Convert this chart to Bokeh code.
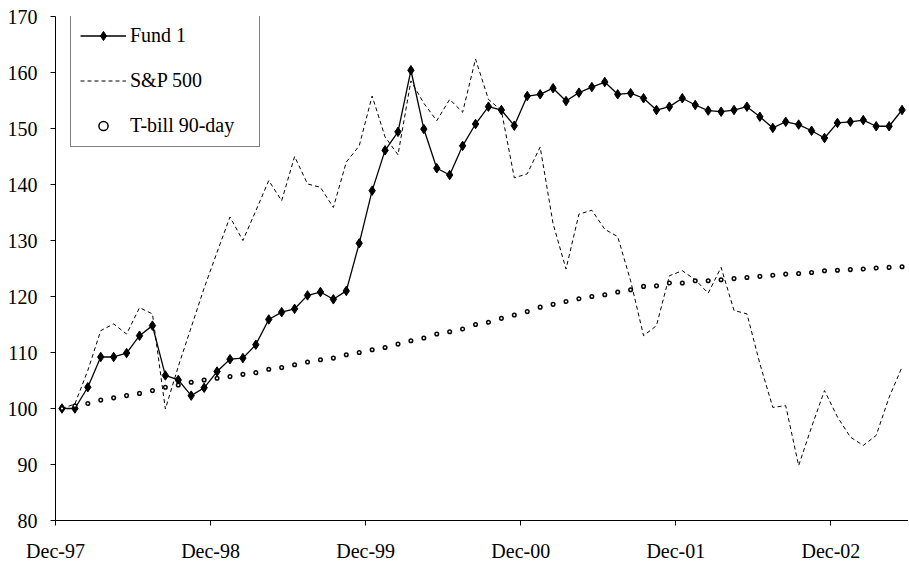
from bokeh.plotting import figure
from bokeh.models import Range1d, FixedTicker, Legend, LegendItem
from bokeh.embed import file_html
from bokeh.resources import INLINE

# ---- data (monthly index values, Dec-97 = 100) ----
fund1 = [100.0, 100.0, 103.8, 109.2, 109.2, 109.9, 113.0, 114.8, 105.9, 105.1,
         102.3, 103.7, 106.6, 108.8, 109.0, 111.4, 115.9, 117.2, 117.8, 120.2,
         120.8, 119.5, 121.0, 129.5, 138.9, 146.1, 149.4, 160.4, 149.9, 142.9,
         141.7, 146.9, 150.8, 153.9, 153.3, 150.5, 155.8, 156.1, 157.2, 154.9,
         156.4, 157.4, 158.3, 156.1, 156.3, 155.4, 153.3, 153.9, 155.4, 154.2,
         153.2, 153.0, 153.3, 153.9, 152.1, 150.1, 151.2, 150.7, 149.6, 148.3,
         151.0, 151.2, 151.5, 150.4, 150.4, 153.3]

sp500 = [100.0, 100.8, 106.8, 113.9, 115.1, 113.3, 118.0, 116.9, 99.9, 107.5,
         114.5, 121.5, 127.9, 134.2, 130.0, 135.3, 140.7, 137.1, 145.0, 140.1,
         139.5, 135.9, 144.0, 146.9, 155.8, 148.5, 145.3, 158.5, 154.5, 151.4,
         155.2, 152.9, 162.4, 155.2, 153.2, 141.2, 141.9, 146.7, 133.0, 124.9,
         134.7, 135.4, 132.0, 130.7, 122.8, 113.0, 114.8, 123.7, 124.6, 123.0,
         120.6, 125.2, 117.5, 116.9, 108.0, 100.2, 100.5, 89.8, 96.7, 103.2,
         98.5, 94.9, 93.4, 95.2, 102.0, 107.4]

tbill = [100.0, 100.5, 100.9, 101.5, 101.9, 102.3, 102.7, 103.2, 103.8, 104.2,
         104.7, 105.1, 105.4, 105.7, 106.1, 106.4, 107.0, 107.3, 107.8, 108.3,
         108.7, 109.0, 109.6, 110.0, 110.5, 110.9, 111.5, 112.1, 112.6, 113.3,
         113.7, 114.2, 115.0, 115.4, 116.1, 116.7, 117.3, 118.1, 118.6, 119.1,
         119.6, 120.0, 120.3, 120.8, 121.2, 121.8, 121.9, 122.4, 122.4, 122.8,
         122.8, 123.0, 123.2, 123.4, 123.6, 123.8, 124.0, 124.1, 124.3, 124.6,
         124.7, 124.8, 124.9, 125.1, 125.2, 125.3]

series_names = ["Fund 1", "S&P 500", "T-bill 90-day"]
tick_labels = ["Dec-97", "Dec-98", "Dec-99", "Dec-00", "Dec-01", "Dec-02"]
months_per_label = 12
y_ticks = [80, 90, 100, 110, 120, 130, 140, 150, 160, 170]

FONT = "Liberation Serif"
n = len(fund1)
x = [i + 0.5 for i in range(n)]  # category centres

p = figure(frame_width=853, frame_height=504,
           x_range=Range1d(0, n), y_range=Range1d(y_ticks[0], y_ticks[-1]),
           output_backend="svg", toolbar_location=None,
           min_border_left=55, min_border_right=0, min_border_top=16, min_border_bottom=36)
p.background_fill_color = "white"
p.border_fill_color = "white"
p.outline_line_color = None
p.grid.visible = False

xa = p.xaxis[0]
ya = p.yaxis[0]
xa.ticker = FixedTicker(ticks=[months_per_label * k for k in range(len(tick_labels))])
xa.major_label_overrides = {months_per_label * k: lab for k, lab in enumerate(tick_labels)}
ya.ticker = FixedTicker(ticks=y_ticks)
for ax in (xa, ya):
    ax.axis_line_color = "black"
    ax.axis_line_width = 1
    ax.major_tick_line_color = "black"
    ax.minor_tick_line_color = None
    ax.major_tick_out = 5
    ax.major_tick_in = 0
    ax.major_label_text_font = FONT
    ax.major_label_text_font_size = "20px"
    ax.major_label_text_color = "black"
xa.major_label_standoff = 14
ya.major_label_standoff = 13

sp_r = p.line(x, sp500, line_color="black", line_width=1, line_dash="4 3")
f_line = p.line(x, fund1, line_color="black", line_width=1.3)
f_mark = p.scatter(x, fund1, marker="diamond", size=9.5, fill_color="black", line_color="black")
tb_r = p.scatter(x, tbill, marker="circle", size=3.6, fill_color="white",
                 line_color="black", line_width=1.5)

legend = Legend(items=[LegendItem(label=series_names[0], renderers=[f_line, f_mark]),
                       LegendItem(label=series_names[1], renderers=[sp_r]),
                       LegendItem(label=series_names[2], renderers=[tb_r])],
                location=(15, 373), orientation="vertical",
                border_line_color="black", border_line_width=1,
                background_fill_color="white", background_fill_alpha=1,
                padding=9, spacing=22, margin=0,
                glyph_height=23, glyph_width=46, label_height=23, label_width=120,
                label_standoff=4,
                label_text_font=FONT, label_text_font_size="20px", label_text_color="black")
p.add_layout(legend)

open("out.html", "w").write(file_html(p, INLINE))
